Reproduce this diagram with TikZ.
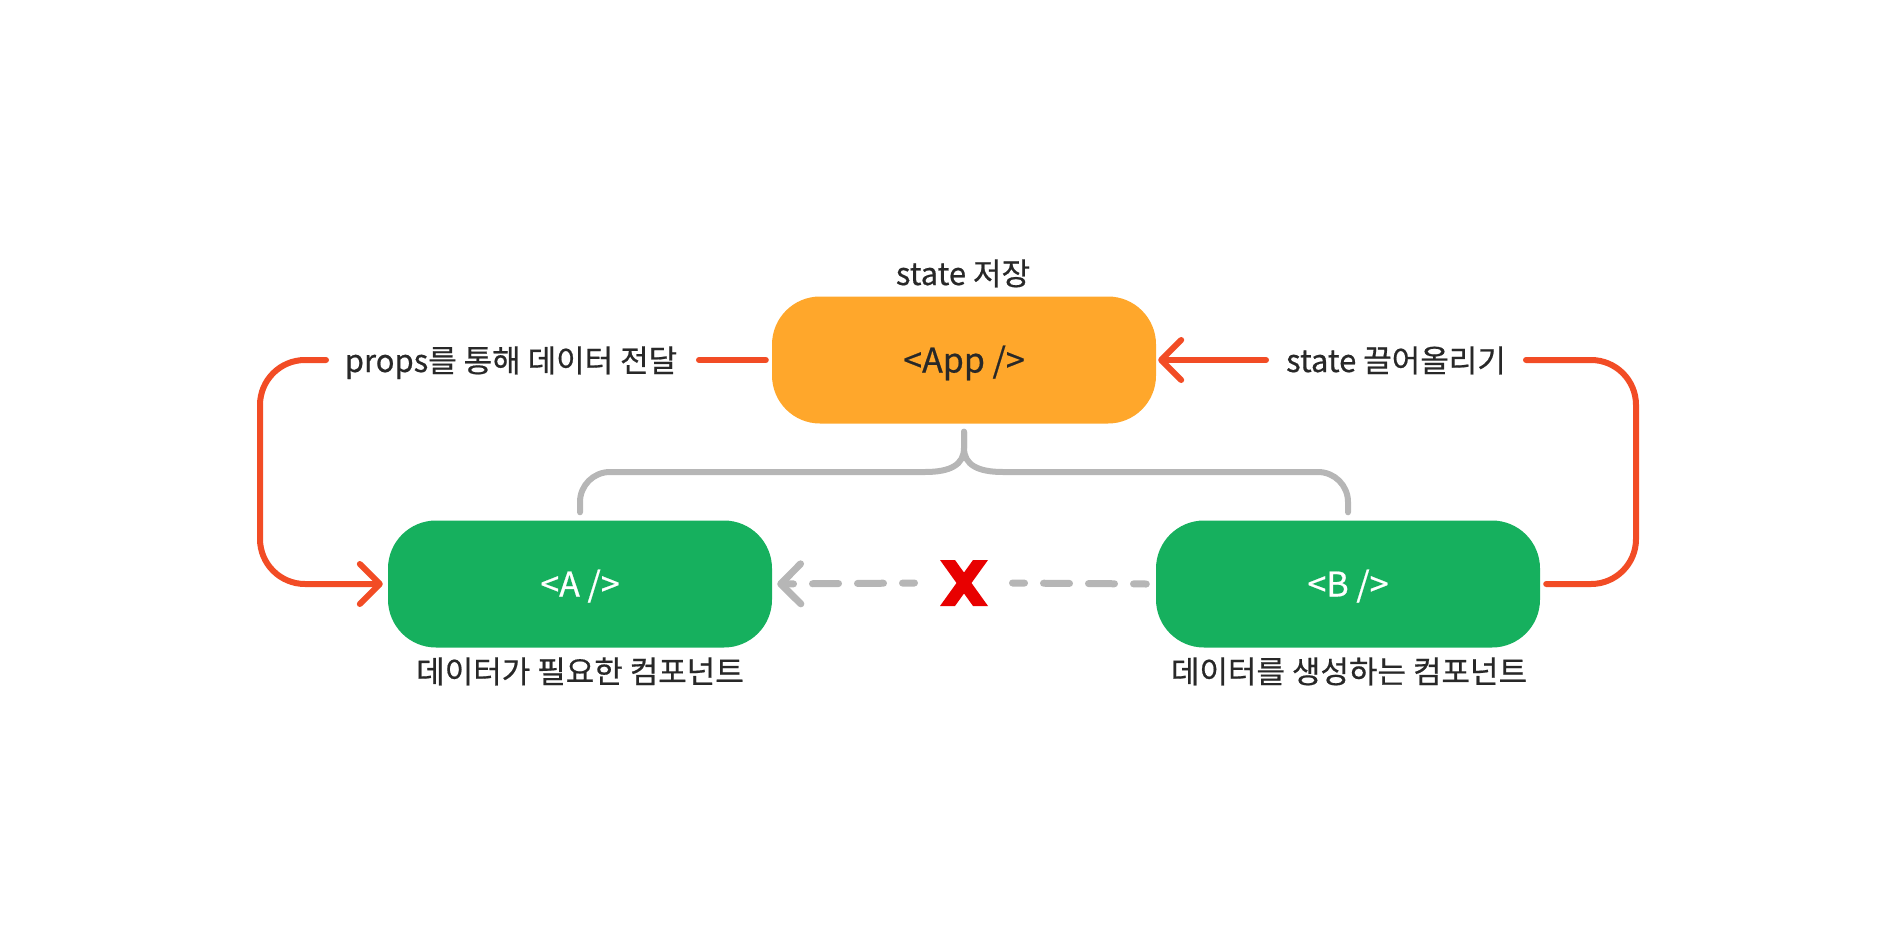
\documentclass[tikz,border=0pt]{standalone}
\usepackage{fontspec}
\setmainfont{Noto Sans CJK KR}[FakeBold=0.6]
\usetikzlibrary{arrows.meta}
\definecolor{appor}{RGB}{255,167,43}
\definecolor{compgr}{RGB}{22,176,94}
\definecolor{linered}{RGB}{242,76,37}
\definecolor{linegray}{RGB}{182,182,182}
\definecolor{crossred}{RGB}{232,0,0}
\definecolor{textdark}{RGB}{40,40,40}
\begin{document}
\begin{tikzpicture}[x=1pt,y=-1pt,
  box/.style={rectangle, rounded corners=48pt, minimum width=384pt, minimum height=127pt,
    inner sep=0pt, font=\fontsize{34pt}{40pt}\selectfont, text height=25pt, text depth=0pt},
  lbl/.style={inner sep=0pt, font=\fontsize{31pt}{37pt}\selectfont, text=textdark,
    text height=24pt, text depth=0pt},
  redline/.style={draw=linered, line width=6pt, line cap=round, line join=round},
  grayline/.style={draw=linegray, line width=6pt, line cap=round, line join=round},
  graydash/.style={draw=linegray, line width=7pt, line cap=round, line join=round,
    dash pattern=on 26pt off 19pt, dash phase=14pt},
  barb/.style={-{Straight Barb[length=20pt,width=40pt,round]}},
  rbarb/.style={{Straight Barb[length=20pt,width=40pt,round]}-},
]
\useasboundingbox (0,0) rectangle (1894,942);

% boxes
\node[box, fill=appor, text=textdark] (App) at (964,360) {<App />};
\node[box, fill=compgr, text=white] (A) at (580,584) {<A />};
\node[box, fill=compgr, text=white] (B) at (1348,584) {<B />};

% labels
\node[lbl] (store) at (963,273) {state 저장};
\node[lbl] (props) at (511,360) {props를 통해 데이터 전달};
\node[lbl] (lift) at (1396,360) {state 끌어올리기};
\node[lbl] (needA) at (580,671) {데이터가 필요한 컴포넌트};
\node[lbl] (makeB) at (1349,671) {데이터를 생성하는 컴포넌트};

% free ends
\coordinate (pl) at (699,360);
\coordinate (pls) at (326,360);
\coordinate (pc1) at (260,360);
\coordinate (pc2) at (260,584);
\coordinate (pr) at (1266,360);
\coordinate (prs) at (1526,360);
\coordinate (prc1) at (1636,360);
\coordinate (prc2) at (1636,584);
\coordinate (X) at (964,583);

% red connectors
\draw[redline] (pl) -- ([xshift=-6pt]App.west);
\draw[redline, barb, rounded corners=45pt] (pls) -- (pc1) -- (pc2) -- ([xshift=-5pt]A.west);
\draw[redline, rbarb] ([xshift=2pt]App.east) -- (pr);
\draw[redline, rounded corners=45pt] (prs) -- (prc1) -- (prc2) -- ([xshift=6pt]B.east);

% gray bracket
\draw[grayline] ([yshift=8pt]A.north) -- (580,502) arc[start angle=180, end angle=90, radius=30pt]
  -- (925,472) .. controls (950,472) and (964,465) .. (964,448) -- ([yshift=-8pt]App.south);
\draw[grayline] ([yshift=8pt]B.north) -- (1348,502) arc[start angle=0, end angle=90, radius=30pt]
  -- (1003,472) .. controls (978,472) and (964,465) .. (964,448) -- ([yshift=-8pt]App.south);

% dashed gray connector
\draw[graydash] ([xshift=48.5pt]X) -- ([xshift=-9.5pt]B.west);
\draw[graydash, barb] ([xshift=-49.5pt]X) -- ([xshift=5pt]A.east);

% cross
\fill[crossred, shift={(X)}] (-24,-23) -- (-9,-23) -- (24,23) -- (9,23) -- cycle;
\fill[crossred, shift={(X)}] (9,-23) -- (24,-23) -- (-9,23) -- (-24,23) -- cycle;
\end{tikzpicture}
\end{document}
